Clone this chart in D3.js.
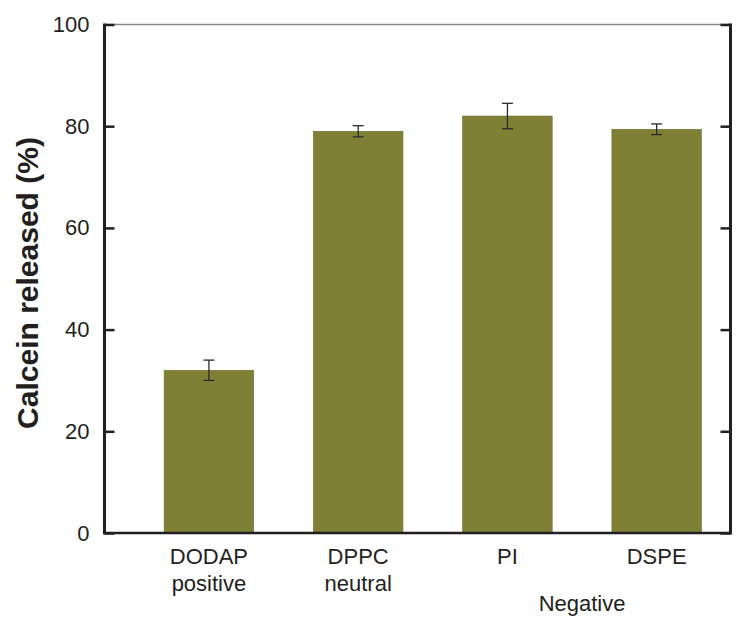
<!DOCTYPE html>
<html><head><meta charset="utf-8">
<script src="https://cdn.jsdelivr.net/npm/d3@7"></script>
<style>body{margin:0;background:#fff}svg{display:block}text{font-family:Arial,"Liberation Sans",sans-serif;fill:#231f20}</style>
</head><body><div id="c"></div>
<script>
const categories = ["DODAP", "DPPC", "PI", "DSPE"];
const subLabels = ["positive", "neutral", "", ""];
const values = [32, 79, 82, 79.4];
const errors = [2.0, 1.1, 2.5, 1.05];
const yTicks = [0, 20, 40, 60, 80, 100];
const groupLabel = "Negative";
const yTitle = "Calcein released (%)";

const W = 747, H = 632;
const L = 104.5, R = 730.5, T = 24.5, B = 533;
const svg = d3.select("#c").append("svg").attr("width", W).attr("height", H);

const x = d3.scaleBand().domain(categories).range([134.3, 731.3]).paddingInner(0.4).paddingOuter(0.2);
const y = d3.scaleLinear().domain([0, 100]).range([B, T]);

// bars
svg.selectAll("rect.bar").data(categories).enter().append("rect")
  .attr("x", d => x(d)).attr("width", x.bandwidth())
  .attr("y", (d, i) => y(values[i])).attr("height", (d, i) => B - y(values[i]))
  .attr("fill", "#7f8035").attr("stroke", "#6f7030").attr("stroke-width", 0.6);

// error bars
const eb = svg.append("g").attr("stroke", "#2b2b2b").attr("stroke-width", 1.3);
categories.forEach((c, i) => {
  const cx = x(c) + x.bandwidth() / 2;
  const t = y(values[i] + errors[i]), b = y(values[i] - errors[i]);
  eb.append("line").attr("x1", cx).attr("x2", cx).attr("y1", t).attr("y2", b);
  eb.append("line").attr("x1", cx - 5.5).attr("x2", cx + 5.5).attr("y1", t).attr("y2", t);
  eb.append("line").attr("x1", cx - 5.5).attr("x2", cx + 5.5).attr("y1", b).attr("y2", b);
});

// frame: top thin gray
svg.append("line").attr("x1", L).attr("x2", R).attr("y1", T).attr("y2", T).attr("stroke", "#8a8a8a").attr("stroke-width", 1.5);

// left axis
const ly = d3.axisLeft(y).tickValues(yTicks).tickSize(-10).tickPadding(16).tickFormat(d3.format("d"));
const gl = svg.append("g").attr("transform", `translate(${L},0)`).call(ly);
gl.select(".domain").remove();
gl.selectAll(".tick line").attr("stroke", "#231f20").attr("stroke-width", 2.5);
gl.selectAll(".tick text").attr("font-size", 22).attr("fill", "#231f20").attr("x", -15);
svg.append("line").attr("x1", L).attr("x2", L).attr("y1", T - 1).attr("y2", B + 1.2).attr("stroke", "#231f20").attr("stroke-width", 3);

// right axis
const ry = d3.axisRight(y).tickValues(yTicks).tickSize(-10).tickFormat("");
const gr = svg.append("g").attr("transform", `translate(${R},0)`).call(ry);
gr.select(".domain").remove();
gr.selectAll(".tick line").attr("stroke", "#231f20").attr("stroke-width", 2.5);
svg.append("line").attr("x1", R).attr("x2", R).attr("y1", T - 1).attr("y2", B + 1.2).attr("stroke", "#231f20").attr("stroke-width", 3);

// bottom axis
svg.append("line").attr("x1", L - 1.5).attr("x2", R + 1.5).attr("y1", B).attr("y2", B).attr("stroke", "#231f20").attr("stroke-width", 2.5);

// x labels
categories.forEach((c, i) => {
  const cx = x(c) + x.bandwidth() / 2;
  svg.append("text").attr("x", cx).attr("y", 564).attr("text-anchor", "middle").attr("font-size", 22).text(c);
  if (subLabels[i]) svg.append("text").attr("x", cx).attr("y", 591).attr("text-anchor", "middle").attr("font-size", 22).text(subLabels[i]);
});
const nx = (x("PI") + x("DSPE") + x.bandwidth()) / 2;
svg.append("text").attr("x", nx).attr("y", 611).attr("text-anchor", "middle").attr("font-size", 22).text(groupLabel);

// y title
svg.append("text").attr("transform", `translate(38,283) rotate(-90)`)
  .attr("text-anchor", "middle").attr("font-size", 30).attr("font-weight", "bold").text(yTitle);
</script></body></html>
